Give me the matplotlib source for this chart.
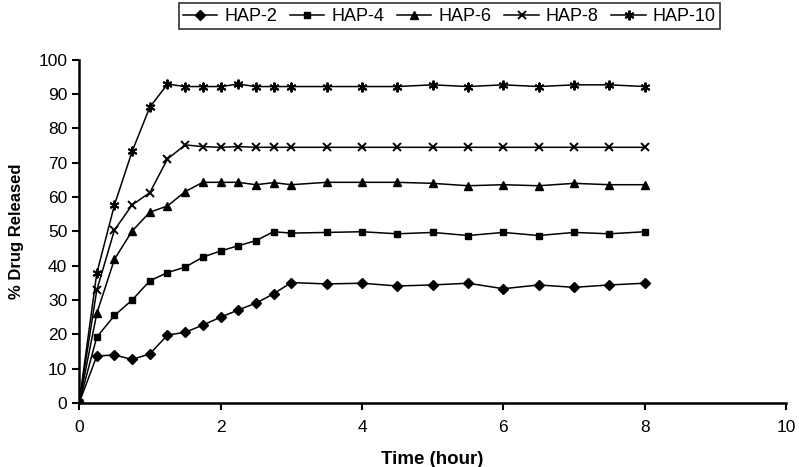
import matplotlib.pyplot as plt
import numpy as np

plt.rcParams['font.family'] = ['Liberation Sans', 'DejaVu Sans']

# sampling times (hour)
time_h = [0, 0.25, 0.5, 0.75, 1, 1.25, 1.5, 1.75, 2, 2.25, 2.5, 2.75, 3,
          3.5, 4, 4.5, 5, 5.5, 6, 6.5, 7, 7.5, 8]

# % drug released
hap2 = [0, 13.7, 14.0, 12.7, 14.3, 19.8, 20.6, 22.7, 25.0, 27.1, 29.1, 31.8, 35.1,
        34.7, 34.9, 34.1, 34.4, 34.9, 33.3, 34.4, 33.7, 34.4, 34.9]
hap4 = [0, 19.2, 25.5, 30.0, 35.6, 38.0, 39.6, 42.5, 44.3, 45.8, 47.3, 49.9, 49.5,
        49.7, 49.9, 49.3, 49.7, 48.8, 49.7, 48.8, 49.7, 49.3, 49.9]
hap6 = [0, 26.1, 41.9, 50.1, 55.6, 57.4, 61.6, 64.3, 64.3, 64.3, 63.6, 64.2, 63.6,
        64.3, 64.3, 64.3, 64.0, 63.3, 63.6, 63.3, 64.0, 63.6, 63.6]
hap8 = [0, 32.9, 50.4, 57.7, 61.3, 71.1, 75.2, 74.7, 74.5, 74.7, 74.5, 74.5, 74.5,
        74.5, 74.5, 74.5, 74.5, 74.5, 74.5, 74.5, 74.5, 74.5, 74.5]
hap10 = [0, 37.8, 57.7, 73.3, 86.2, 92.9, 92.2, 92.2, 92.2, 92.9, 92.2, 92.2, 92.2,
         92.2, 92.2, 92.2, 92.7, 92.2, 92.7, 92.2, 92.7, 92.7, 92.2]

series = [('HAP-2', hap2, 'D', 5, 1.0), ('HAP-4', hap4, 's', 5, 1.0),
          ('HAP-6', hap6, '^', 6, 1.0), ('HAP-8', hap8, 'x', 6, 1.4),
          ('HAP-10', hap10, (6, 2, 0), 7, 1.4)]

fig = plt.figure(figsize=(7.99, 4.67), dpi=100)
ax = fig.add_axes([0.099, 0.137, 0.885, 0.735])

for name, vals, mk, ms, mew in series:
    ax.plot(time_h, vals, color='black', lw=1.1, marker=mk, markersize=ms,
            markeredgewidth=mew, label=name)

ax.set_xlim(0, 10)
ax.set_ylim(0, 100)
ax.set_xticks(np.arange(0, 11, 2))
ax.set_yticks(np.arange(0, 101, 10))
for side in ['top', 'right']:
    ax.spines[side].set_visible(False)
for side in ['left', 'bottom']:
    ax.spines[side].set_linewidth(1.8)
ax.tick_params(direction='out', width=1.5, length=5, labelsize=12.5)
ax.tick_params(axis='x', pad=7)
ax.set_xlabel('Time (hour)', fontsize=13.5, fontweight='bold', labelpad=12)
ax.set_ylabel('% Drug Released', fontsize=12, fontweight='bold', labelpad=10)

leg = fig.legend(loc='upper center', bbox_to_anchor=(0.5626, 1.012), ncol=5,
                 fontsize=13, frameon=True, fancybox=False, edgecolor='black',
                 handlelength=1.9, columnspacing=0.7, handletextpad=0.4,
                 borderpad=0.25)
leg.get_frame().set_linewidth(1.2)

fig.savefig('out.png', dpi=100)
